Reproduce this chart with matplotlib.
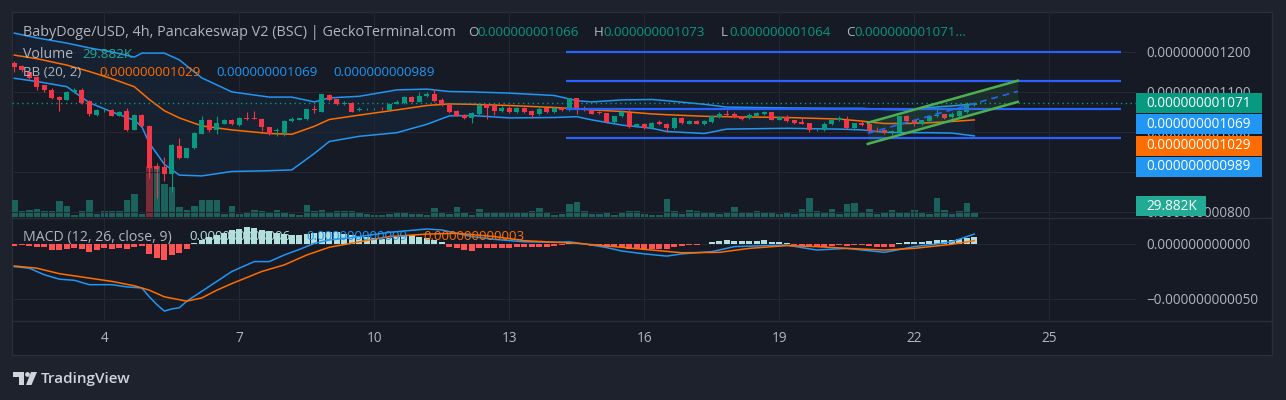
import numpy as np
import pandas as pd
import matplotlib
matplotlib.use("Agg")
import matplotlib.pyplot as plt
from matplotlib.patches import Rectangle, Polygon, Circle
from matplotlib.transforms import Affine2D

plt.rcParams['font.family'] = ['Open Sans', 'DejaVu Sans']

# prices in units of 1e-12 USD, 4h candles starting on the 2nd
opens = [1170, 1164, 1150, 1135, 1115, 1104, 1085, 1080, 1098, 1104,
         1075, 1041, 1053, 1055, 1040, 1052, 1005, 1041, 1014, 914,
         912, 895, 964, 935, 958, 995, 1029, 1004, 1020, 1029,
         1016, 1034, 1033, 1031, 1010, 1002, 997, 1027, 1029, 1032,
         1056, 1050, 1091, 1080, 1070, 1072, 1055, 1056, 1056, 1059,
         1055, 1070, 1071, 1086, 1075, 1088, 1094, 1079, 1068, 1051,
         1041, 1033, 1043, 1068, 1063, 1052, 1058, 1049, 1059, 1051,
         1043, 1058, 1049, 1059, 1053, 1083, 1059, 1053, 1048, 1045,
         1024, 1038, 1047, 1014, 1019, 1008, 1024, 1019, 1009, 1034,
         1020, 1027, 1019, 1024, 1037, 1043, 1043, 1038, 1033, 1040,
         1044, 1048, 1030, 1037, 1028, 1024, 1020, 1006, 1004, 1018,
         1028, 1028, 1009, 1022, 1018, 1001, 1003, 998, 999, 1038,
         1028, 1018, 1027, 1039, 1043, 1037, 1039, 1049, 1066]
closes = [1162, 1154, 1135, 1112, 1103, 1085, 1079, 1100, 1104, 1072,
          1044, 1054, 1054, 1040, 1050, 1004, 1041, 1014, 910, 906,
          895, 966, 933, 958, 997, 1029, 1005, 1022, 1029, 1019,
          1034, 1031, 1032, 1012, 993, 1003, 1025, 1030, 1033, 1055,
          1055, 1093, 1079, 1069, 1072, 1050, 1057, 1057, 1057, 1058,
          1070, 1075, 1086, 1075, 1089, 1094, 1077, 1068, 1049, 1040,
          1034, 1045, 1066, 1059, 1052, 1059, 1049, 1059, 1049, 1041,
          1056, 1049, 1058, 1053, 1083, 1056, 1053, 1045, 1047, 1024,
          1038, 1048, 1012, 1019, 1008, 1022, 1019, 1009, 1034, 1022,
          1027, 1020, 1027, 1039, 1043, 1041, 1037, 1031, 1041, 1047,
          1048, 1030, 1037, 1027, 1022, 1020, 1004, 1007, 1019, 1028,
          1034, 1009, 1020, 1016, 1001, 1000, 997, 1001, 1038, 1027,
          1018, 1028, 1039, 1041, 1035, 1043, 1052, 1066, 1071]
highs = [1176, 1166, 1152, 1138, 1117, 1108, 1088, 1102, 1110, 1108,
         1079, 1056, 1059, 1057, 1052, 1058, 1043, 1044, 1016, 922,
         936, 970, 985, 960, 1000, 1038, 1031, 1040, 1031, 1031,
         1036, 1050, 1052, 1033, 1012, 1008, 1028, 1036, 1035, 1057,
         1066, 1095, 1093, 1082, 1076, 1074, 1062, 1060, 1060, 1062,
         1072, 1078, 1088, 1088, 1099, 1099, 1107, 1083, 1070, 1053,
         1043, 1048, 1068, 1070, 1068, 1064, 1063, 1061, 1061, 1053,
         1065, 1060, 1062, 1061, 1085, 1085, 1063, 1055, 1052, 1047,
         1040, 1054, 1058, 1021, 1021, 1024, 1028, 1021, 1036, 1036,
         1029, 1029, 1029, 1041, 1048, 1053, 1050, 1040, 1046, 1049,
         1052, 1050, 1039, 1042, 1030, 1033, 1022, 1009, 1023, 1032,
         1038, 1038, 1022, 1027, 1024, 1012, 1005, 1003, 1040, 1041,
         1030, 1030, 1041, 1066, 1045, 1048, 1055, 1074, 1073]
lows = [1150, 1150, 1132, 1105, 1100, 1082, 1052, 1078, 1096, 1070,
        1038, 1039, 1048, 1038, 1038, 1002, 1003, 1012, 885, 833,
        876, 850, 931, 933, 956, 993, 1000, 995, 1018, 1017,
        1014, 1030, 1031, 1002, 991, 990, 988, 1025, 1028, 1030,
        1047, 1048, 1077, 1067, 1066, 1048, 1052, 1054, 1054, 1055,
        1053, 1068, 1069, 1073, 1073, 1086, 1075, 1064, 1047, 1038,
        1032, 1022, 1041, 1032, 1042, 1050, 1047, 1047, 1046, 1035,
        1041, 1047, 1047, 1051, 1051, 1043, 1051, 1043, 1045, 1022,
        1022, 1036, 1010, 1012, 1006, 1006, 1017, 999, 1007, 1020,
        1018, 1018, 1017, 1022, 1035, 1040, 1035, 1029, 1031, 1038,
        1042, 1028, 1028, 1025, 1020, 1018, 998, 1002, 1001, 1016,
        1026, 1007, 1004, 1014, 999, 998, 995, 991, 997, 1025,
        1014, 1016, 1025, 1037, 1031, 1035, 1037, 1047, 1064]
volumes_k = [127, 45, 52, 60, 45, 45, 120, 82, 15, 45,
             127, 22, 45, 45, 45, 127, 172, 22, 381, 381,
             247, 224, 75, 52, 82, 127, 127, 127, 22, 82,
             22, 30, 52, 45, 30, 52, 30, 22, 15, 90,
             45, 52, 37, 45, 45, 45, 30, 22, 15, 15,
             22, 30, 30, 22, 22, 15, 67, 30, 22, 75,
             37, 15, 60, 37, 30, 30, 30, 37, 30, 45,
             67, 37, 15, 22, 97, 112, 45, 22, 22, 30,
             15, 30, 45, 45, 22, 15, 15, 134, 45, 22,
             52, 45, 30, 30, 22, 37, 75, 30, 37, 45,
             30, 37, 22, 37, 22, 60, 142, 45, 30, 60,
             22, 97, 105, 37, 60, 22, 30, 52, 37, 37,
             52, 30, 22, 142, 52, 22, 45, 105, 29.882]
red_volume_bars = [18]

# Bollinger Bands (20, 2) read at candle indices
bb_idx = [0, 3, 7, 10, 13, 16, 17, 18, 20, 22, 25, 29, 34, 37, 40, 42, 46, 51, 55,
          58, 61, 66, 72, 75, 77, 81, 85, 87, 92, 95, 103, 110, 113, 116, 119, 122, 125, 128]
bb_upper = [1246, 1234, 1221, 1209, 1199, 1186, 1196, 1196, 1196, 1179, 1134, 1099, 1086,
            1086, 1074, 1084, 1088, 1104, 1106, 1100, 1099, 1096, 1090, 1077, 1074, 1079,
            1080, 1077, 1068, 1061, 1059, 1058, 1058, 1055, 1054, 1060, 1064, 1069]
bb_basis = [1191, 1182, 1166, 1150, 1132, 1112, 1096, 1080, 1052, 1034, 1014, 1004, 995,
            993, 1013, 1030, 1041, 1054, 1065, 1069, 1068, 1065, 1060, 1057, 1054, 1050,
            1044, 1042, 1038, 1037, 1035, 1031, 1026, 1020, 1020, 1022, 1025, 1029]
bb_lower = [1133, 1125, 1112, 1072, 1049, 1028, 1012, 971, 918, 891, 889, 900, 902,
            904, 945, 975, 988, 997, 1018, 1039, 1040, 1034, 1035, 1037, 1029, 1016,
            1008, 1000, 995, 1006, 1008, 1006, 1004, 998, 997, 997, 996, 989]

# MACD (12, 26, close, 9) in units of 1e-12
macd_idx = [0, 2, 4, 6, 8, 10, 13, 15, 17, 18, 19, 20, 21, 22, 23, 25, 27, 29, 31, 32,
            34, 36, 38, 40, 42, 46, 50, 55, 57, 59, 61, 64, 68, 72, 74, 77, 79, 81, 84,
            87, 89, 93, 96, 103, 105, 107, 111, 116, 117, 120, 123, 125, 127, 128]
macd_line = [-20.6, -22, -28, -32, -33, -37, -37, -39, -40, -48, -55, -61, -59, -58, -52,
             -43, -34, -25, -19, -16, -16, -10, -5, 0.6, 3.6, 6.7, 10.6, 13.6, 12.7, 9.7,
             6.7, 4.2, 2, 1.5, 2, -1, -3.3, -6.4, -9, -11, -9, -7, -2.4, -1, -3.3, -5.5,
             -4, -7.6, -6.4, -2.4, 0, 2, 6.7, 9]
signal_idx = [0, 3, 6, 9, 13, 16, 18, 20, 23, 25, 27, 29, 33, 36, 39, 42, 46, 50, 55,
              59, 64, 68, 75, 79, 85, 89, 94, 98, 103, 107, 111, 116, 120, 125, 128]
signal_line = [-20, -22, -27, -30, -34, -38, -42, -48, -52, -49, -42, -36, -25, -19, -10,
               -3, 2, 6.7, 9, 9.7, 6.7, 3, 0.6, -1.8, -5.5, -8, -7.6, -4, -1.5, -2.4, -4,
               -5.5, -4, -0.3, 3]
macd_hist = [-1.5, -1, -1.5, -2.4, -2.4, -5.5, -5.5, -4.8, -4, -4.8,
             -7, -5.5, -4, -4.8, -4, -4.8, -2.4, -1.8, -9, -13,
             -15, -10, -8.5, -5, 0.5, 3.6, 6, 8, 10, 12.5,
             14, 15, 14.5, 13, 11.5, 10, 9, 8.5, 8.5, 9,
             10, 10.5, 11, 10.5, 9.5, 8, 7, 6, 5, 4.5,
             5, 6.5, 8, 8, 6.5, 5, 3.6, 2, -2.4, -4,
             -5.5, -6, -4, -3.3, -3.3, -3.3, -3.3, -2.4, -2.4, -3,
             -2.4, -2.4, -1.5, -1.2, 0.6, 0.6, 0.3, -1.5, -1.5, -2.4,
             -2.4, -2.4, -4.5, -4, -4.5, -4.5, -4.5, -4.5, -2.4, -1.5,
             -0.6, -0.6, 0.3, 1.8, 2.7, 3.6, 2.7, 2.7, 2.7, 2.7,
             3.6, 1.8, 1.8, 0.6, -0.6, -1.5, -2.4, -2.4, -2.4, -1.5,
             -1, -1.5, -1, -1, -1.8, -2.4, -2.4, -2.4, 1.2, 1.8,
             1.8, 1.8, 2.7, 3.6, 3.6, 3.6, 4.5, 5.5, 6]

# user drawings
hline_levels = [1199, 1127, 1057.5, 984.5]
hline_span = [73.6, 147.6]
channel_idx = [113.8, 133.8]
channel_top = [1022, 1127]
channel_bottom = [969, 1074]

day_ticks = [4, 7, 10, 13, 16, 19, 22, 25]
start = pd.Timestamp('2024-01-02 00:00')

header = "BabyDoge/USD, 4h, Pancakeswap V2 (BSC) | GeckoTerminal.com"

BG = '#161a25'
OUTER = '#1e222d'
GRID = '#232733'
TXT = '#b2b5be'
UP = '#089981'
DOWN = '#f23645'
BLUE = '#2196f3'
ORANGE = '#ff6d00'

W, H = 1286, 400
fig = plt.figure(figsize=(W / 100, H / 100), dpi=100, facecolor=OUTER)
px = Affine2D().scale(1 / W, -1 / H).translate(0, 1) + fig.transFigure


def fx(x):
    return x / W


def fy(y):
    return 1 - y / H


frame = Rectangle((12, 12), 1260, 343, transform=px, facecolor=BG,
                  edgecolor='#2a2e39', lw=1, zorder=-10)
fig.add_artist(frame)

ymin, ymax = 786.25, 1298.75
xmin, xmax = -0.31, 149.56
ax_main = fig.add_axes([fx(12), fy(217), fx(1136) - fx(12), fy(12) - fy(217)])
ax_vol = ax_main.twinx()
ax_macd = fig.add_axes([fx(12), fy(320), fx(1136) - fx(12), fy(218) - fy(320)])
ax_main.set_zorder(2)
ax_vol.set_zorder(1)
ax_main.patch.set_visible(False)
ax_vol.axis('off')
ax_macd.patch.set_visible(False)

n = len(closes)
x = np.arange(n)
times = pd.date_range(start, periods=n, freq='4h')
tick_pos = [(pd.Timestamp(start.year, start.month, d) - start) / pd.Timedelta(hours=4)
            for d in day_ticks]

# volume
vol_colors = ['#7a2c38' if i in red_volume_bars else '#1c625c' for i in range(n)]
ax_vol.bar(x, volumes_k, width=0.87, color=vol_colors, lw=0)
ax_vol.set_ylim(0, 1531)

# bollinger bands
ax_main.fill_between(bb_idx, bb_upper, bb_lower, color=BLUE, alpha=0.06, lw=0, zorder=1)
ax_main.plot(bb_idx, bb_upper, color=BLUE, lw=1.1, zorder=2)
ax_main.plot(bb_idx, bb_lower, color=BLUE, lw=1.1, zorder=2)
ax_main.plot(bb_idx, bb_basis, color=ORANGE, lw=1.1, zorder=2)

# candles
o = np.array(opens, float)
c = np.array(closes, float)
colors = [UP if cc >= oo else DOWN for oo, cc in zip(o, c)]
ax_main.vlines(x, lows, highs, colors=colors, lw=0.8, zorder=4)
body = np.maximum(np.abs(c - o), 1.2)
ax_main.bar(x, body, bottom=np.minimum(o, c), width=0.67, color=colors, lw=0, zorder=4)

# last price line
ax_main.axhline(closes[-1], color=UP, lw=1, ls=(0, (1, 2.5)), zorder=3)

# drawings
ax_main.hlines(hline_levels, hline_span[0], hline_span[1], color='#2962ff', lw=1.6, zorder=5)
ax_main.fill_between(channel_idx, channel_top, channel_bottom, color='#4caf50', alpha=0.12,
                     lw=0, zorder=5)
ax_main.plot(channel_idx, channel_top, color='#4caf50', lw=1.8, zorder=6)
ax_main.plot(channel_idx, channel_bottom, color='#4caf50', lw=1.8, zorder=6)
channel_mid = [(a + b) / 2 for a, b in zip(channel_top, channel_bottom)]
ax_main.plot(channel_idx, channel_mid, color='#2962ff', lw=1.2, ls=(0, (4, 3)), zorder=6)

price_ticks = [800, 900, 1000, 1100, 1200]
ax_main.set_xlim(xmin, xmax)
ax_main.set_ylim(ymin, ymax)
ax_main.set_xticks(tick_pos)
ax_main.set_yticks(price_ticks)
ax_main.set_yticklabels([f"{p * 1e-12:.12f}" for p in price_ticks])
ax_main.yaxis.tick_right()
ax_main.tick_params(axis='x', length=0, labelbottom=False)
ax_main.tick_params(axis='y', length=0, pad=7.2, labelsize=9.8, labelcolor=TXT)
ax_main.grid(True, color=GRID, lw=0.8)
for s in ax_main.spines.values():
    s.set_visible(False)

# MACD pane
hist_colors = ['#b2dfdb' if h >= 0 else '#ff5252' for h in macd_hist]
ax_macd.bar(x, macd_hist, width=0.82, color=hist_colors, lw=0, zorder=2)
ax_macd.plot(macd_idx, macd_line, color=BLUE, lw=1.1, zorder=3)
ax_macd.plot(signal_idx, signal_line, color=ORANGE, lw=1.1, zorder=3)
macd_ticks = [0, -50]
ax_macd.set_xlim(xmin, xmax)
ax_macd.set_ylim(-69.1, 23.6)
ax_macd.set_yticks(macd_ticks)
ax_macd.set_yticklabels([f"{v * 1e-12:.12f}".replace('-', '\u2212') for v in macd_ticks])
ax_macd.yaxis.tick_right()
ax_macd.set_xticks(tick_pos)
ax_macd.set_xticklabels([str(d) for d in day_ticks])
ax_macd.tick_params(axis='y', length=0, pad=7.2, labelsize=9.8, labelcolor=TXT)
ax_macd.tick_params(axis='x', length=0, pad=8, labelsize=9.8, labelcolor=TXT)
ax_macd.grid(True, color=GRID, lw=0.8)
for s in ax_macd.spines.values():
    s.set_visible(False)

# pane separators
for yy in (217.5, 320.5):
    fig.add_artist(plt.Line2D([12, 1272], [yy, yy], transform=px, color='#2a2e39', lw=1))


# price scale labels (stacked like TradingView)
def price_px(p):
    return 12 + (ymax - p) / (ymax - ymin) * 205


box_specs = [(closes[-1], UP), (bb_upper[-1], BLUE), (bb_basis[-1], ORANGE), (bb_lower[-1], BLUE)]
prev = None
for val, col in box_specs:
    cy = price_px(val)
    if prev is not None:
        cy = max(cy, prev + 21.3)
    prev = cy
    fig.add_artist(Rectangle((1136, cy - 10), 126, 20, transform=px, facecolor=col, lw=0, zorder=5))
    fig.text(1146, cy, f"{val * 1e-12:.12f}", transform=px, color='white', fontsize=9.8,
             va='center', ha='left', zorder=6)
fig.add_artist(Rectangle((1136, 196), 70, 20, transform=px, facecolor='#22ab94', lw=0, zorder=5))
fig.text(1146, 206, f"{volumes_k[-1]:.3f}K", transform=px, color='white', fontsize=9.8,
         va='center', ha='left', zorder=6)

# legends
fs = 9.6
fig.text(23, 33, header, transform=px, color=TXT, fontsize=10.4, va='center')
ohlc = [("O", opens[-1], 468, 477), ("H", highs[-1], 594, 603),
        ("L", lows[-1], 721, 729), ("C", closes[-1], 846, 854)]
for lab, v, lx, vx in ohlc:
    fig.text(lx, 33, lab, transform=px, color=TXT, fontsize=fs, va='center')
    tail = "\u2026" if lab == "C" else ""
    fig.text(vx, 33, f"{v * 1e-12:.12f}" + tail, transform=px, color=UP, fontsize=fs, va='center')
fig.text(23, 54, "Volume", transform=px, color=TXT, fontsize=10.2, va='center')
fig.text(82, 54, f"{volumes_k[-1]:.3f}K", transform=px, color='#22ab94', fontsize=fs, va='center')
fig.text(23, 73, "BB (20, 2)", transform=px, color=TXT, fontsize=fs, va='center')
for v, col, lx in [(bb_basis[-1], ORANGE, 99), (bb_upper[-1], BLUE, 216), (bb_lower[-1], BLUE, 333)]:
    fig.text(lx, 73, f"{v * 1e-12:.12f}", transform=px, color=col, fontsize=fs, va='center')
fig.text(23, 237, "MACD (12, 26, close, 9)", transform=px, color=TXT, fontsize=10.2, va='center')
for v, col, lx in [(macd_hist[-1], '#b2dfdb', 189), (macd_line[-1], BLUE, 306),
                   (signal_line[-1], ORANGE, 423)]:
    fig.text(lx, 237, f"{round(v) * 1e-12:.12f}", transform=px, color=col, fontsize=fs, va='center')

# TradingView logo
logo = '#d1d4dc'
fig.add_artist(Polygon([(13, 372), (24, 372), (24, 385), (19, 385), (19, 377), (13, 377)],
                       closed=True, transform=px, facecolor=logo, lw=0))
fig.add_artist(Circle((27.5, 374.5), 2.4, transform=px, facecolor=logo, lw=0))
fig.add_artist(Polygon([(31, 372), (37, 372), (31.5, 385), (26, 385)], closed=True,
                       transform=px, facecolor=logo, lw=0))
fig.text(41, 378.5, "TradingView", transform=px, color=logo, fontsize=11, va='center',
         fontweight='semibold')

fig.savefig('out.png', dpi=100, facecolor=fig.get_facecolor())
